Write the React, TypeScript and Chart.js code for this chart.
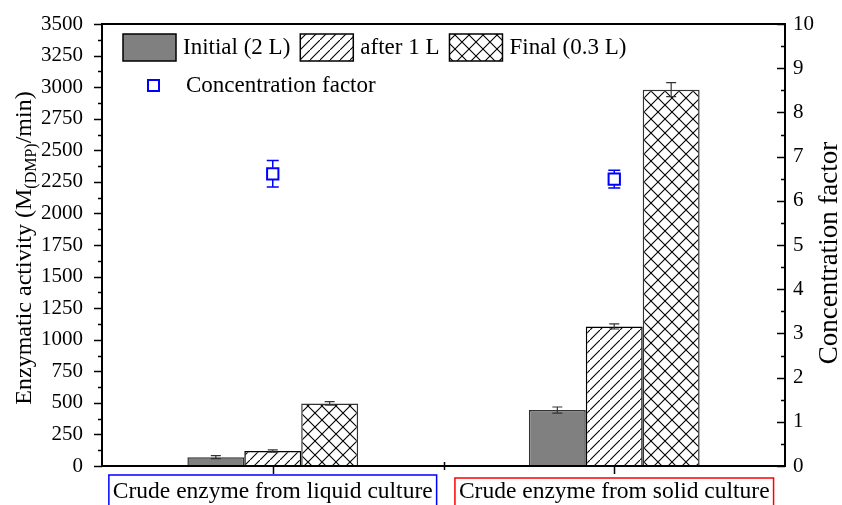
import React, { useEffect, useRef } from "react";
import { Chart, registerables } from "chart.js";
Chart.register(...registerables);

const categories = ["Crude enzyme from liquid culture", "Crude enzyme from solid culture"];
const seriesLabels = ["Initial (2 L)", "after 1 L", "Final (0.3 L)"];
const initialValues = [70, 443];
const initialErrors = [12, 24];
const after1LValues = [119, 1105];
const after1LErrors = [9, 20];
const finalValues = [495, 2980];
const finalErrors = [14, 55];
const concLabel = "Concentration factor";
const concValues = [6.61, 6.49];
const concErrors = [0.3, 0.2];
const leftTicksMax = 3500;
const leftStep = 250;
const rightTicksMax = 10;
const rightStep = 1;
const yTitleMain1 = "Enzymatic activity (M";
const yTitleSub = "(DMP)";
const yTitleMain2 = "/min)";
const y1Title = "Concentration factor";

const SERIF = '"Liberation Serif", "Times New Roman", serif';

function makePattern(ctx: CanvasRenderingContext2D, kind: "diag" | "cross") {
  const size = kind === "diag" ? 10 : 14;
  const c = document.createElement("canvas");
  c.width = size;
  c.height = size;
  const g = c.getContext("2d")!;
  g.fillStyle = "#fff";
  g.fillRect(0, 0, size, size);
  g.strokeStyle = "#000";
  g.lineWidth = 1.1;
  g.beginPath();
  g.moveTo(-1, size + 1);
  g.lineTo(size + 1, -1);
  if (kind === "cross") {
    g.moveTo(-1, -1);
    g.lineTo(size + 1, size + 1);
  }
  g.stroke();
  return ctx.createPattern(c, "repeat")!;
}

const errorSets = [initialErrors, after1LErrors, finalErrors, concErrors];

const decor = {
  id: "decor",
  afterDatasetsDraw(chart: any) {
    const ctx = chart.ctx as CanvasRenderingContext2D;
    const yS = chart.scales.y;
    const y1S = chart.scales.y1;
    ctx.save();
    for (let d = 0; d < 3; d++) {
      const meta = chart.getDatasetMeta(d);
      const vals = chart.data.datasets[d].data as number[];
      meta.data.forEach((el: any, j: number) => {
        const v = vals[j];
        const e = errorSets[d][j];
        const yt = yS.getPixelForValue(v + e);
        const yb = yS.getPixelForValue(v - e);
        ctx.strokeStyle = "#333";
        ctx.lineWidth = 1.2;
        ctx.beginPath();
        ctx.moveTo(el.x, yt);
        ctx.lineTo(el.x, yb);
        ctx.moveTo(el.x - 5, yt);
        ctx.lineTo(el.x + 5, yt);
        ctx.moveTo(el.x - 5, yb);
        ctx.lineTo(el.x + 5, yb);
        ctx.stroke();
      });
    }
    const meta = chart.getDatasetMeta(3);
    meta.data.forEach((el: any, j: number) => {
      const v = concValues[j];
      const e = concErrors[j];
      const yt = y1S.getPixelForValue(v + e);
      const yb = y1S.getPixelForValue(v - e);
      ctx.strokeStyle = "#0000ff";
      ctx.lineWidth = 1.5;
      ctx.beginPath();
      ctx.moveTo(el.x, yt);
      ctx.lineTo(el.x, el.y - 6);
      ctx.moveTo(el.x, el.y + 6);
      ctx.lineTo(el.x, yb);
      ctx.moveTo(el.x - 6, yt);
      ctx.lineTo(el.x + 6, yt);
      ctx.moveTo(el.x - 6, yb);
      ctx.lineTo(el.x + 6, yb);
      ctx.stroke();
    });
    ctx.restore();
  },
  afterDraw(chart: any) {
    const ctx = chart.ctx as CanvasRenderingContext2D;
    const { left, right, top, bottom } = chart.chartArea;
    const yS = chart.scales.y;
    const y1S = chart.scales.y1;
    const xS = chart.scales.x;
    ctx.save();
    // frame
    ctx.strokeStyle = "#000";
    ctx.lineWidth = 2;
    ctx.strokeRect(left, top, right - left, bottom - top);
    // ticks
    ctx.lineWidth = 1.5;
    ctx.beginPath();
    for (let v = 0; v <= leftTicksMax; v += leftStep / 2) {
      const y = Math.round(yS.getPixelForValue(v)) + 0.5;
      const len = v % leftStep === 0 ? 8 : 4;
      ctx.moveTo(left - len, y);
      ctx.lineTo(left, y);
    }
    for (let v = 0; v <= rightTicksMax + 1e-9; v += rightStep / 2) {
      const y = Math.round(y1S.getPixelForValue(v)) + 0.5;
      const major = Math.abs(v - Math.round(v)) < 1e-9;
      const len = major ? 8 : 4;
      ctx.moveTo(right - len, y);
      ctx.lineTo(right, y);
    }
    for (let i = 0; i < categories.length; i++) {
      const x = Math.round(xS.getPixelForTick(i)) + 0.5;
      ctx.moveTo(x, bottom);
      ctx.lineTo(x, bottom + 8);
      if (i > 0) {
        const xb = Math.round((xS.getPixelForTick(i - 1) + xS.getPixelForTick(i)) / 2) + 0.5;
        ctx.moveTo(xb, bottom - 4);
        ctx.lineTo(xb, bottom + 4);
      }
    }
    ctx.stroke();

    // category label boxes
    ctx.font = `23.5px ${SERIF}`;
    const boxColors = ["#0000ff", "#ff0000"];
    categories.forEach((c, i) => {
      const cx = xS.getPixelForTick(i);
      const w = ctx.measureText(c).width;
      ctx.strokeStyle = boxColors[i];
      ctx.lineWidth = 1.5;
      ctx.strokeRect(cx - w / 2 - 4, 475 + i * 3, w + 8, 40);
    });

    // legend
    ctx.font = `23px ${SERIF}`;
    ctx.textBaseline = "middle";
    ctx.textAlign = "left";
    let lx = 123;
    for (let d = 0; d < 3; d++) {
      const ds = chart.data.datasets[d];
      ctx.fillStyle = ds.backgroundColor;
      ctx.fillRect(lx, 34, 53, 27);
      ctx.strokeStyle = "#000";
      ctx.lineWidth = 1.5;
      ctx.strokeRect(lx, 34, 53, 27);
      ctx.fillStyle = "#000";
      ctx.fillText(ds.label, lx + 60, 48);
      lx += 60 + ctx.measureText(ds.label).width + 10;
    }
    ctx.strokeStyle = "#0000ff";
    ctx.lineWidth = 2;
    ctx.strokeRect(148, 80, 11, 11);
    ctx.fillStyle = "#000";
    ctx.fillText(concLabel, 186, 86);

    // left title with subscript
    ctx.save();
    ctx.translate(23, 248);
    ctx.rotate(-Math.PI / 2);
    const fMain = `24px ${SERIF}`;
    const fSub = `16px ${SERIF}`;
    ctx.font = fMain;
    const w1 = ctx.measureText(yTitleMain1).width;
    const w3 = ctx.measureText(yTitleMain2).width;
    ctx.font = fSub;
    const w2 = ctx.measureText(yTitleSub).width;
    let tx = -(w1 + w2 + w3) / 2;
    ctx.textBaseline = "alphabetic";
    ctx.fillStyle = "#000";
    ctx.font = fMain;
    ctx.fillText(yTitleMain1, tx, 8);
    tx += w1;
    ctx.font = fSub;
    ctx.fillText(yTitleSub, tx, 13);
    tx += w2;
    ctx.font = fMain;
    ctx.fillText(yTitleMain2, tx, 8);
    ctx.restore();

    // right title
    ctx.save();
    ctx.translate(830, 253);
    ctx.rotate(-Math.PI / 2);
    ctx.font = `27px ${SERIF}`;
    ctx.textAlign = "center";
    ctx.textBaseline = "middle";
    ctx.fillStyle = "#000";
    ctx.fillText(y1Title, 0, 0);
    ctx.restore();

    ctx.restore();
  },
};

function zeroPad(s: any) {
  s.paddingTop = 0;
  s.paddingBottom = 0;
  s.paddingLeft = 0;
  s.paddingRight = 0;
}

export default function App() {
  const ref = useRef<HTMLCanvasElement>(null);
  useEffect(() => {
    document.body.style.margin = "0";
    const canvas = ref.current!;
    const ctx = canvas.getContext("2d")!;
    const diag = makePattern(ctx, "diag");
    const cross = makePattern(ctx, "cross");
    const chart = new Chart(canvas, {
      type: "bar",
      data: {
        labels: categories,
        datasets: [
          {
            type: "bar",
            label: seriesLabels[0],
            data: initialValues,
            backgroundColor: "#808080",
            borderColor: "#333",
            borderWidth: 1.5,
            yAxisID: "y",
            order: 1,
          },
          {
            type: "bar",
            label: seriesLabels[1],
            data: after1LValues,
            backgroundColor: diag as any,
            borderColor: "#000",
            borderWidth: 1.5,
            yAxisID: "y",
            order: 1,
          },
          {
            type: "bar",
            label: seriesLabels[2],
            data: finalValues,
            backgroundColor: cross as any,
            borderColor: "#333",
            borderWidth: 1.5,
            yAxisID: "y",
            order: 1,
          },
          {
            type: "line",
            label: concLabel,
            data: concValues,
            showLine: false,
            pointStyle: "rect",
            pointRadius: 8,
            pointBorderWidth: 2,
            pointBorderColor: "#0000ff",
            pointBackgroundColor: "#ffffff",
            borderColor: "#0000ff",
            backgroundColor: "#ffffff",
            yAxisID: "y1",
            order: 0,
          } as any,
        ],
      },
      options: {
        responsive: false,
        animation: false,
        devicePixelRatio: 1,
        layout: { padding: { top: 24, left: 0, right: 0, bottom: 0 } },
        datasets: { bar: { barPercentage: 1, categoryPercentage: 0.5 } },
        plugins: { legend: { display: false }, tooltip: { enabled: false } },
        scales: {
          x: {
            type: "category",
            offset: true,
            grid: { display: false, drawTicks: false },
            border: { display: false },
            ticks: {
              color: "#000",
              font: { family: SERIF, size: 23.5 },
              padding: 12,
              maxRotation: 0,
              autoSkip: false,
            },
            afterFit: (s: any) => {
              s.height = 39;
              zeroPad(s);
            },
          },
          y: {
            position: "left",
            min: 0,
            max: leftTicksMax,
            grid: { display: false, drawTicks: false },
            border: { display: false },
            ticks: {
              stepSize: leftStep,
              color: "#000",
              font: { family: SERIF, size: 21 },
              padding: 19,
              callback: (v: any) => String(v),
            },
            afterFit: (s: any) => {
              s.width = 102;
              zeroPad(s);
            },
          },
          y1: {
            position: "right",
            min: 0,
            max: rightTicksMax,
            grid: { display: false, drawTicks: false },
            border: { display: false },
            ticks: {
              stepSize: rightStep,
              color: "#000",
              font: { family: SERIF, size: 21 },
              padding: 8,
              callback: (v: any) => String(v),
            },
            afterFit: (s: any) => {
              s.width = 57;
              zeroPad(s);
            },
          },
        },
      } as any,
      plugins: [decor],
    });
    return () => chart.destroy();
  }, []);
  return (
    <div style={{ width: 842, height: 505 }}>
      <canvas ref={ref} width={842} height={505} style={{ display: "block" }} />
    </div>
  );
}
